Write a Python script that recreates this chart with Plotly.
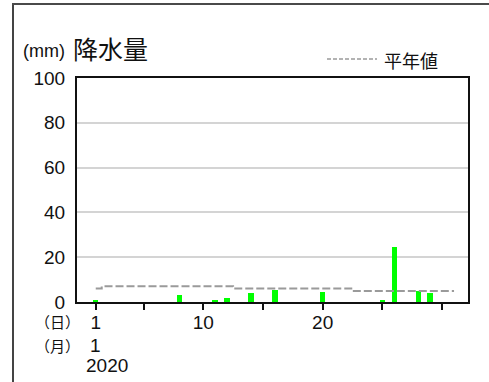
import plotly.graph_objects as go

# ---- data ----
rain_days = [1, 8, 11, 12, 14, 16, 20, 25, 26, 28, 29]
rain_mm = [1.0, 3.0, 1.0, 2.0, 4.0, 5.5, 4.5, 1.0, 24.5, 5.0, 4.0]

normal_days = list(range(1, 32))
normal_mm = [6.0] + [7.0] * 11 + [6.0] * 10 + [4.9] * 9

x_tickvals = [1, 5, 10, 15, 20, 25, 30]
x_ticktext = ["1", "", "10", "", "20", "", ""]
y_tickvals = [0, 20, 40, 60, 80, 100]
y_ticktext = ["0", "20", "40", "60", "80", "100"]

W, H = 489, 382
L, R, T, B = 77, 21, 78, 80
PW, PH = W - L - R, H - T - B


def px(x):
    return (x - L) / PW


def py(y):
    return (H - B - y) / PH


NUM_FONT = "Liberation Sans, Arial, sans-serif"
JP_FONT = "Noto Sans CJK JP, sans-serif"

fig = go.Figure()
fig.add_trace(go.Bar(
    x=rain_days, y=rain_mm, width=0.45,
    marker=dict(color="#00ff00", line=dict(width=0)),
    showlegend=False,
))
fig.add_trace(go.Scatter(
    x=normal_days, y=normal_mm, mode="lines",
    line=dict(color="#9a9a9a", width=2, dash="8px,3px", shape="hvh"),
    showlegend=False,
))

fig.update_layout(
    width=W, height=H,
    margin=dict(l=L, r=R, t=T, b=B, pad=0),
    paper_bgcolor="white", plot_bgcolor="white",
    showlegend=False,
    bargap=0,
    xaxis=dict(
        range=[-0.57, 32.17], showgrid=False, zeroline=False,
        showline=True, linecolor="#111", linewidth=2, mirror=True,
        tickmode="array", tickvals=x_tickvals, ticktext=x_ticktext,
        ticks="outside", ticklen=6, tickwidth=2, tickcolor="#111",
        ticklabelstandoff=-4,
        tickfont=dict(family=NUM_FONT, size=19, color="#111"),
        fixedrange=True,
    ),
    yaxis=dict(
        range=[0, 100], showgrid=True, gridcolor="#d4d4d4", gridwidth=1.5,
        zeroline=False,
        showline=True, linecolor="#111", linewidth=2, mirror=True,
        tickmode="array", tickvals=y_tickvals, ticktext=y_ticktext,
        ticks="", ticklabelstandoff=6,
        tickfont=dict(family=NUM_FONT, size=19, color="#111"),
        fixedrange=True,
    ),
)

# outer frame (top and left edges)
fig.add_shape(type="line", xref="paper", yref="paper",
              x0=px(13), x1=px(13), y0=py(3), y1=py(H + 5),
              line=dict(color="#444", width=2), layer="above")
fig.add_shape(type="line", xref="paper", yref="paper",
              x0=px(12), x1=px(W), y0=py(4), y1=py(4),
              line=dict(color="#4a4a4a", width=2), layer="above")

# legend sample
fig.add_shape(type="line", xref="paper", yref="paper",
              x0=px(327), x1=px(377), y0=py(59), y1=py(59),
              line=dict(color="#9a9a9a", width=1.5, dash="4px,2px"))
fig.add_annotation(x=px(382), y=py(60), xref="paper", yref="paper",
                   text="平年値", showarrow=False, xanchor="left", yanchor="middle",
                   font=dict(family=JP_FONT, size=18, color="#111"))

# title
fig.add_annotation(x=px(43.5), y=py(51), xref="paper", yref="paper",
                   text="(mm)", showarrow=False, xanchor="center", yanchor="middle",
                   font=dict(family=NUM_FONT, size=18, color="#111"))
fig.add_annotation(x=px(71), y=py(48), xref="paper", yref="paper",
                   text="降水量", showarrow=False, xanchor="left", yanchor="middle",
                   font=dict(family=JP_FONT, size=25, color="#111"))

# x-axis extra labels
fig.add_annotation(x=px(57), y=py(321), xref="paper", yref="paper",
                   text="（日）", showarrow=False, xanchor="center", yanchor="middle",
                   font=dict(family=JP_FONT, size=15, color="#111"))
fig.add_annotation(x=px(57), y=py(345), xref="paper", yref="paper",
                   text="（月）", showarrow=False, xanchor="center", yanchor="middle",
                   font=dict(family=JP_FONT, size=15, color="#111"))
fig.add_annotation(x=1, y=py(345), xref="x", yref="paper",
                   text="1", showarrow=False, xanchor="center", yanchor="middle",
                   font=dict(family=NUM_FONT, size=19, color="#111"))
fig.add_annotation(x=px(106.5), y=py(365), xref="paper", yref="paper",
                   text="2020", showarrow=False, xanchor="center", yanchor="middle",
                   font=dict(family=NUM_FONT, size=19, color="#111"))

fig.write_html(
    "out.html", config={"displayModeBar": False},
    post_script=("document.body.style.margin='0';"
                 "document.documentElement.style.overflow='hidden';"
                 "window.scrollTo(0,0);"),
)
